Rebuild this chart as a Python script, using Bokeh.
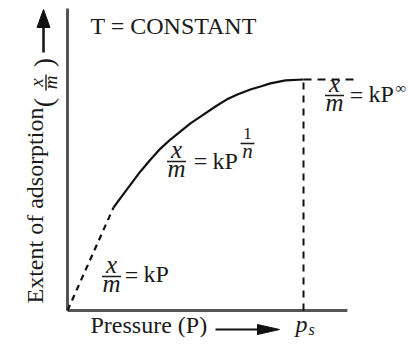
import math
from bokeh.plotting import figure
from bokeh.models import Range1d
from bokeh.core.properties import value
from bokeh.embed import file_html
from bokeh.resources import INLINE

# ---- data (arbitrary units, saturation pressure p_s = 10, saturation x/m = 10)
linear_P = [0.0, 1.95]            # x/m = kP region (dashed)
linear_xm = [0.0, 4.46]
freundlich_P = [1.95, 2.33, 2.67, 3.09, 3.52, 3.94, 4.36, 4.79, 5.21, 5.76,
                6.27, 6.74, 7.20, 7.75, 8.18, 8.60, 9.24, 10.0]          # x/m = kP^(1/n)
freundlich_xm = [4.46, 4.98, 5.45, 6.02, 6.54, 7.01, 7.40, 7.75, 8.10, 8.48,
                 8.83, 9.13, 9.35, 9.57, 9.70, 9.83, 9.96, 10.0]
sat_P = [10.0, 12.29]             # x/m = kP^0 (dashed plateau)
sat_xm = [10.0, 10.0]
ps_P = [10.0, 10.0]               # vertical guide at p_s
ps_xm = [0.0, 10.0]
axis_x_end = 11.86
axis_y_end = 13.07

# ---- layout helpers (picture pixel -> data units)
W, H = 407, 337
OX, OY = 67, 310
SX, SY = 23.6, 23.1
def X(px): return (px - OX) / SX
def Y(py): return (OY - py) / SY

FONT = value("Liberation Serif, Times New Roman, DejaVu Serif, serif")
TXT = "#1a1a1a"

p = figure(width=W, height=H, x_range=Range1d(X(0), X(W)), y_range=Range1d(Y(H), Y(0)),
           output_backend="svg", toolbar_location=None, x_axis_location=None, y_axis_location=None,
           min_border=0, outline_line_color=None, title=None,
           background_fill_color="white", border_fill_color="white")
p.grid.visible = False

# axes
p.line([0, axis_x_end], [0, 0], line_width=3, color="#555555", line_cap="butt")
p.line([0, 0], [0, axis_y_end], line_width=3, color="#555555", line_cap="butt")

# curves
p.line(linear_P, linear_xm, line_width=2.2, color="#111111", line_dash="6 5")
p.line(freundlich_P, freundlich_xm, line_width=2.2, color="#111111")
p.line(sat_P, sat_xm, line_width=2, color="#111111", line_dash="8 6")
p.line(ps_P, ps_xm, line_width=2, color="#111111", line_dash="7 6")

def label(px, py, s, size=24, style="normal", align="left", angle=0.0):
    shift = size / 3.0   # baseline correction for the rendered text position
    if angle == 0.0:
        py -= shift
    else:
        px -= shift
    p.text(x=[X(px)], y=[Y(py)], text=[s], text_font=FONT, text_font_size=f"{size}px",
           text_font_style=style, text_color=TXT, text_align=align, text_baseline="alphabetic",
           angle=angle)

def hbar(x1, x2, py, w=1.6):
    p.line([X(x1), X(x2)], [Y(py), Y(py)], line_width=w, color=TXT)

def frac(cx, bar_y, half=9.5, size=25):
    label(cx, bar_y - 4, "x", size=size, style="italic", align="center")
    label(cx, bar_y + 15, "m", size=size, style="italic", align="center")
    hbar(cx - half, cx + half, bar_y)

# T = CONSTANT
label(90, 33, "T = CONSTANT")

# x/m = kP
frac(111, 276)
label(131, 282, "=", align="center")
label(143, 281, "kP")

# x/m = kP^(1/n)
frac(176, 161)
label(200, 168, "=", align="center")
label(212, 168, "kP")
label(247, 139, "1", size=17, align="center")
hbar(240, 254, 143, w=1.3)
label(247, 157, "n", size=21, style="italic", align="center")

# x/m = kP^inf
frac(334, 95)
label(356, 102, "=", align="center")
label(368, 101, "kP")
label(395, 92, "\u221e", size=15)

# x axis title
label(90, 332, "Pressure (P)")
p.line([X(215), X(262)], [Y(329), Y(329)], line_width=2.2, color="#111111")
p.patch([X(279), X(257), X(257)], [Y(329), Y(324), Y(334)], color="#111111")
label(295, 331, "p", size=24, style="italic")
label(308, 334, "s", size=16, style="italic")

# y axis title (rotated)
A = math.pi / 2
label(42, 303, "Extent of adsorption", size=24, angle=A)
label(52, 102, "(", size=28, align="center", angle=A)
label(52, 62, ")", size=28, align="center", angle=A)
label(42, 82, "x", size=19, style="italic", align="center", angle=A)
label(56, 82, "m", size=19, style="italic", align="center", angle=A)
p.line([X(45.5), X(45.5)], [Y(74), Y(90)], line_width=1.4, color=TXT)
p.line([X(43), X(43)], [Y(52), Y(24)], line_width=2.5, color="#111111")
p.patch([X(43), X(36.5), X(49.5)], [Y(9), Y(27), Y(27)], color="#111111")

open("out.html", "w").write(file_html(p, INLINE))
